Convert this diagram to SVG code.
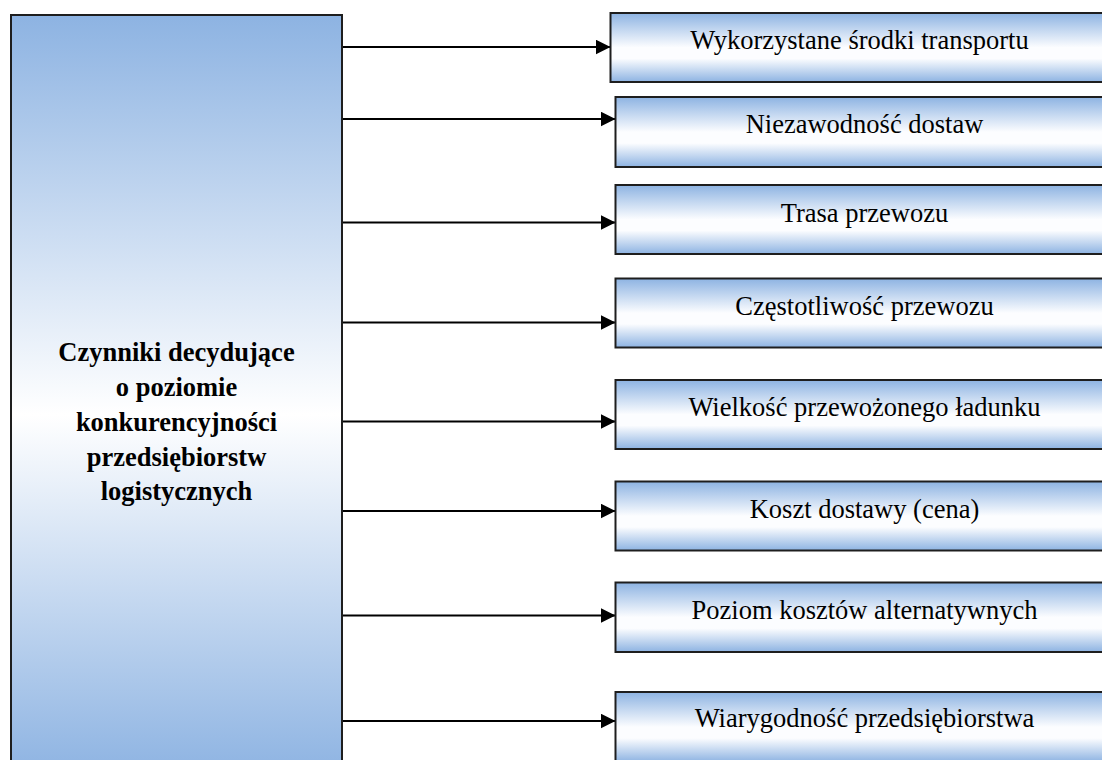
<svg xmlns="http://www.w3.org/2000/svg" width="1102" height="760" viewBox="0 0 1102 760">
  <style>
    .box { stroke: #1e1e1e; stroke-width: 2; }
    .main { fill: url(#mainFill); }
    .factor { fill: url(#factorFill); }
    .lbl { font-family: "Liberation Serif", "Times New Roman", serif; font-size: 26.5px; fill: #000; text-anchor: middle; }
    .title { font-weight: bold; }
    .link { stroke: #000; stroke-width: 2; fill: none; marker-end: url(#arrow); }
  </style>
  <defs>
    <linearGradient id="mainFill" x1="0" y1="0" x2="0" y2="1">
      <stop offset="0" stop-color="#8db3e2"/>
      <stop offset="0.526" stop-color="#ffffff"/>
      <stop offset="1" stop-color="#8db3e2"/>
    </linearGradient>
    <linearGradient id="factorFill" x1="0" y1="0" x2="0" y2="1">
      <stop offset="0" stop-color="#8db3e2"/>
      <stop offset="0.5" stop-color="#fcfdff"/>
      <stop offset="0.66" stop-color="#fcfdff"/>
      <stop offset="1" stop-color="#8db3e2"/>
    </linearGradient>
    <marker id="arrow" viewBox="0 0 15 15" refX="15" refY="7.5" markerWidth="15" markerHeight="15" markerUnits="userSpaceOnUse" orient="auto">
      <path d="M0,0 L15,7.5 L0,15 Z" fill="#000"/>
    </marker>
  </defs>

  <!-- central node -->
  <g id="node-czynniki">
    <rect class="box main" x="11" y="15" width="331" height="760"/>
    <text class="lbl title" x="176.5" y="361">Czynniki decydujące</text>
    <text class="lbl title" x="176.5" y="396">o poziomie</text>
    <text class="lbl title" x="176.5" y="431">konkurencyjności</text>
    <text class="lbl title" x="176.5" y="466">przedsiębiorstw</text>
    <text class="lbl title" x="176.5" y="500">logistycznych</text>
  </g>

  <!-- connectors -->
  <g id="connectors">
    <line class="link" x1="343" y1="47" x2="610.5" y2="47"/>
    <line class="link" x1="343" y1="119" x2="615.5" y2="119"/>
    <line class="link" x1="343" y1="222.5" x2="615.5" y2="222.5"/>
    <line class="link" x1="343" y1="322.5" x2="615.5" y2="322.5"/>
    <line class="link" x1="343" y1="421.5" x2="615.5" y2="421.5"/>
    <line class="link" x1="343" y1="511" x2="615.5" y2="511"/>
    <line class="link" x1="343" y1="615.5" x2="615.5" y2="615.5"/>
    <line class="link" x1="343" y1="721" x2="615.5" y2="721"/>
  </g>

  <!-- factor nodes -->
  <g id="node-srodki-transportu">
    <rect class="box factor" x="610.5" y="13" width="500" height="69"/>
    <text class="lbl" x="859.5" y="49.3">Wykorzystane środki transportu</text>
  </g>
  <g id="node-niezawodnosc">
    <rect class="box factor" x="615.5" y="97" width="500" height="70"/>
    <text class="lbl" x="864.5" y="133.3">Niezawodność dostaw</text>
  </g>
  <g id="node-trasa">
    <rect class="box factor" x="615.5" y="185" width="500" height="69"/>
    <text class="lbl" x="864.5" y="221.7">Trasa przewozu</text>
  </g>
  <g id="node-czestotliwosc">
    <rect class="box factor" x="615.5" y="278.5" width="500" height="69"/>
    <text class="lbl" x="864.5" y="314.5">Częstotliwość przewozu</text>
  </g>
  <g id="node-wielkosc-ladunku">
    <rect class="box factor" x="615.5" y="380" width="500" height="69"/>
    <text class="lbl" x="864.5" y="415.5">Wielkość przewożonego ładunku</text>
  </g>
  <g id="node-koszt-dostawy">
    <rect class="box factor" x="615.5" y="481.5" width="500" height="69"/>
    <text class="lbl" x="864.5" y="517.7">Koszt dostawy (cena)</text>
  </g>
  <g id="node-koszty-alternatywne">
    <rect class="box factor" x="615.5" y="582.5" width="500" height="69.5"/>
    <text class="lbl" x="864.5" y="619.3">Poziom kosztów alternatywnych</text>
  </g>
  <g id="node-wiarygodnosc">
    <rect class="box factor" x="615.5" y="692" width="500" height="70"/>
    <text class="lbl" x="864.5" y="726.7">Wiarygodność przedsiębiorstwa</text>
  </g>
</svg>
